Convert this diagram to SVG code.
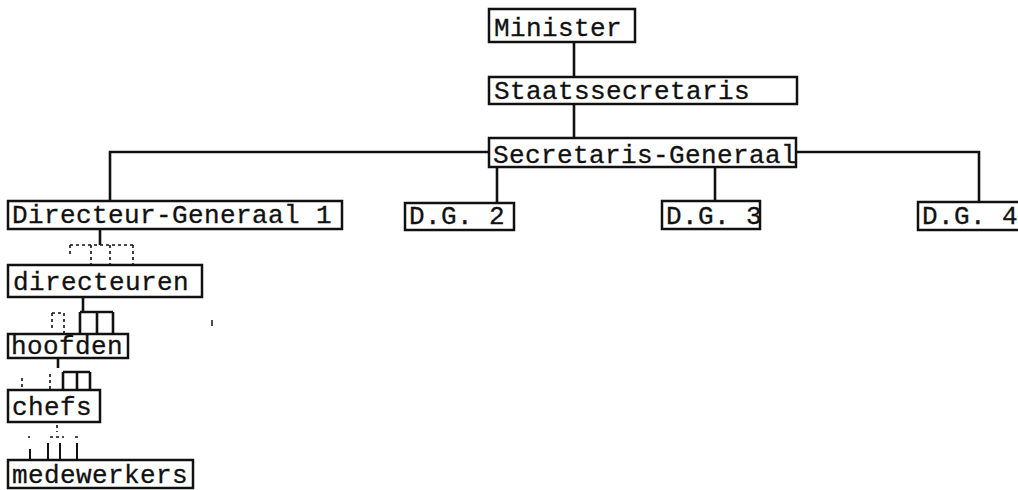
<svg xmlns="http://www.w3.org/2000/svg" width="1018" height="490" viewBox="0 0 1018 490">
<style>
.box{fill:#fff;stroke:#111;stroke-width:2.5}
.t{font-family:"Liberation Mono","Courier New",monospace;font-size:26px;letter-spacing:0.4px;fill:#111;stroke:#111;stroke-width:0.3}
.c{fill:none;stroke:#111;stroke-width:2.6}
.d{fill:none;stroke:#111;stroke-width:1.6;stroke-dasharray:3 3}
</style>
<rect width="1018" height="490" fill="#fff"/>
<g id="connectors">
<path class="c" d="M574 42V77M574 104V138"/>
<path class="c" d="M489 152H110V201M795 152H979V202"/>
<path class="c" d="M497 167V203M715 167V201"/>
<path class="c" d="M100 229V245"/>
<path class="d" d="M70 245H133M70 245V256M91 245V265M110 245V265M133 245V265"/>
<path class="c" d="M83 297V312M80 312H113M80 312V334M97 312V334M113 312V334"/>
<path class="d" d="M52 313H64M52 313V330M64 313V334"/>
<path class="c" d="M58 358V368"/>
<path class="c" d="M63 372H90M63 372V390M77 372V390M90 372V390"/>
<path class="d" d="M22 378V389M50 374V389"/>
<path class="d" d="M57 425V432M28 437H30M50 437H64M75 437H80"/>
<path class="c" d="M30 449V459M48 443V459M60 443V459M77 443V459" style="stroke-width:2"/>
<path class="c" d="M212 320V326" style="stroke-width:1.5"/>
</g>
<g id="minister"><rect class="box" x="489" y="9" width="146" height="33"/><text class="t" x="494" y="36">Minister</text></g>
<g id="staatssecretaris"><rect class="box" x="489" y="77" width="308" height="27"/><text class="t" x="494" y="99">Staatssecretaris</text></g>
<g id="secretaris-generaal"><rect class="box" x="489" y="138" width="307" height="29"/><text class="t" x="493" y="163">Secretaris-Generaal</text></g>
<g id="dg1"><rect class="box" x="8" y="201" width="334" height="28"/><text class="t" x="12" y="223">Directeur-Generaal 1</text></g>
<g id="dg2"><rect class="box" x="405" y="203" width="109" height="27"/><text class="t" x="409" y="224">D.G. 2</text></g>
<g id="dg3"><rect class="box" x="662" y="201" width="98" height="28"/><text class="t" x="666" y="224">D.G. 3</text></g>
<g id="dg4"><rect class="box" x="918" y="202" width="110" height="28"/><text class="t" x="922" y="224">D.G. 4</text></g>
<g id="directeuren"><rect class="box" x="8" y="265" width="194" height="32"/><text class="t" x="13" y="290">directeuren</text></g>
<g id="hoofden"><rect class="box" x="8" y="334" width="120" height="24"/><text class="t" x="11" y="354">hoofden</text></g>
<g id="chefs"><rect class="box" x="8" y="390" width="92" height="32"/><text class="t" x="12" y="415">chefs</text></g>
<g id="medewerkers"><rect class="box" x="8" y="460" width="185" height="28"/><text class="t" x="12" y="483">medewerkers</text></g>
</svg>
